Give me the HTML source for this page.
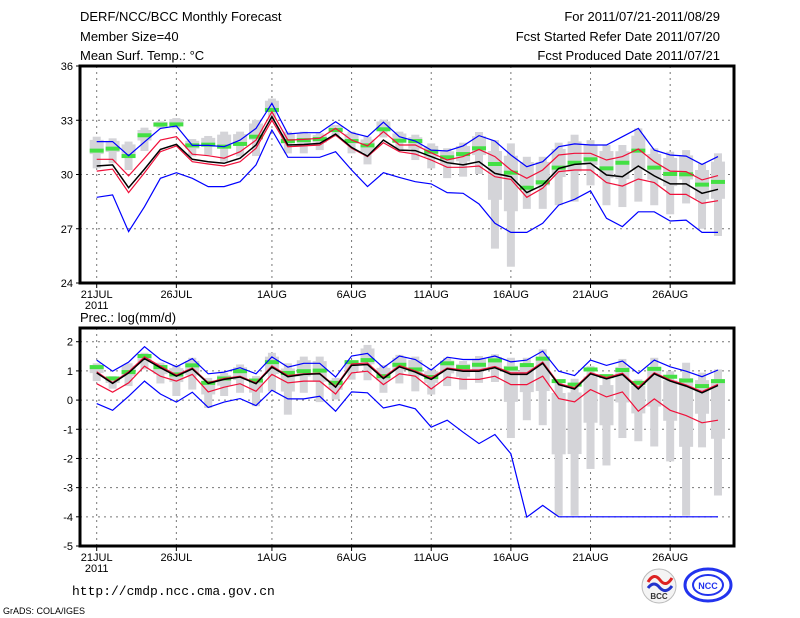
<!DOCTYPE html>
<html><head><meta charset="utf-8">
<style>
body{margin:0;background:#fff;}
svg{display:block;font-family:"Liberation Sans",sans-serif;}
</style></head>
<body>
<svg id="chart" width="800" height="618" viewBox="0 0 800 618">
<g font-size="13" fill="#000">
<text x="80" y="21">DERF/NCC/BCC Monthly Forecast</text>
<text x="80" y="41">Member Size=40</text>
<text x="80" y="60">Mean Surf. Temp.: °C</text>
<text x="720" y="21" text-anchor="end">For 2011/07/21-2011/08/29</text>
<text x="720" y="41" text-anchor="end">Fcst Started Refer Date 2011/07/20</text>
<text x="720" y="60" text-anchor="end">Fcst Produced Date 2011/07/21</text>
<text x="80" y="322">Prec.: log(mm/d)</text>
<text x="72" y="595" font-size="13" font-family="Liberation Mono,monospace">http://cmdp.ncc.cma.gov.cn</text>
<text x="3" y="614" font-size="9">GrADS: COLA/IGES</text>
</g>
<g id="top"></g>
<g id="bot"></g>
<g>
<circle cx="659" cy="586" r="17" fill="#f4f4f4" stroke="#bbb"/>
<path d="M648 582 q6 -10 12 -2 q6 8 12 -2" stroke="#d22" stroke-width="3" fill="none"/>
<path d="M648 588 q6 -8 12 0 q6 6 12 -2" stroke="#23c" stroke-width="3" fill="none"/>
<text x="659" y="599" font-size="8" text-anchor="middle" font-weight="bold" fill="#333">BCC</text>
</g>
<g>
<ellipse cx="708" cy="585" rx="23" ry="16" fill="none" stroke="#2233ee" stroke-width="3"/>
<ellipse cx="708" cy="585" rx="15" ry="10" fill="none" stroke="#2233ee" stroke-width="2"/>
<text x="708" y="589" font-size="9" text-anchor="middle" font-weight="bold" fill="#2233ee">NCC</text>
</g>
</svg>
<script>
// ---- Temperature panel data ----
const days = ["21JUL","","","","","26JUL","","","","","","1AUG","","","","","6AUG","","","","","11AUG","","","","","16AUG","","","","","21AUG","","","","","26AUG","","",""];
const tUpperBlue=[31.82,31.82,31.04,31.8,32.55,32.68,31.61,31.61,31.54,31.9,32.55,33.94,32.24,32.31,32.31,32.92,32.31,32.09,32.89,32.09,31.85,31.35,31.3,31.58,32.15,31.85,31.08,30.43,30.71,31.54,31.69,31.63,31.63,32.09,32.55,31.35,31.08,31.02,30.56,30.99];
const tUpperRed=[30.84,30.84,29.92,30.9,31.9,32.09,31.12,31.04,30.9,31.26,31.9,33.47,31.9,31.94,32.0,32.55,31.9,31.58,32.37,31.63,31.63,31.2,30.8,30.99,31.39,30.99,30.25,29.79,30.25,31.08,31.17,31.17,30.8,30.99,31.41,30.71,30.19,30.16,29.7,29.94];
const tMean=[30.47,30.53,29.27,30.3,31.39,31.67,30.84,30.71,30.62,30.9,31.63,33.2,31.63,31.66,31.72,32.24,31.5,31.02,31.9,31.35,31.32,30.99,30.65,30.53,30.71,30.06,29.88,29.0,29.42,30.34,30.56,30.62,29.97,29.88,30.47,29.92,29.48,29.48,28.96,29.18];
const tLowerRed=[30.19,30.3,29.0,30.1,31.26,31.58,30.71,30.58,30.47,30.71,31.45,33.0,31.54,31.58,31.63,32.18,31.45,30.99,31.76,31.26,31.13,30.8,30.4,30.4,30.47,29.88,29.73,28.74,29.24,30.16,30.25,30.25,29.55,29.36,29.75,29.55,28.9,28.9,28.4,28.55];
const tLowerBlue=[28.74,28.87,26.84,28.22,29.79,30.1,29.79,29.33,29.33,29.6,30.53,32.46,30.95,30.95,30.95,31.26,30.25,29.33,30.1,29.84,29.6,29.48,29.0,28.96,28.37,27.3,26.8,26.8,27.3,28.31,28.63,29.1,27.58,27.12,27.94,27.94,27.43,27.48,26.8,26.8];
const tObs=[31.32,31.43,31.02,32.17,32.76,32.77,31.61,31.65,31.54,31.69,32.09,33.57,31.85,31.9,31.96,32.46,31.85,31.61,32.5,31.87,31.85,31.26,30.95,31.13,31.45,30.58,30.1,29.27,29.57,30.38,30.65,30.84,30.34,30.65,31.32,30.38,30.03,30.01,29.44,29.59];
const tBarHigh=[32.09,32.0,31.82,32.59,32.94,33.12,31.96,32.13,32.37,32.37,33.02,34.2,32.37,32.37,32.28,32.74,32.37,32.09,33.03,32.37,32.2,31.72,31.45,31.76,32.35,31.9,31.72,30.98,30.98,31.76,32.2,31.9,31.63,31.63,32.55,31.45,31.26,31.35,30.61,31.17];
const tBarLow=[30.34,30.62,30.25,31.3,32.55,32.55,31.0,31.08,30.71,31.0,31.02,33.0,31.17,31.17,31.35,32.09,31.17,30.56,32.05,31.35,30.8,30.34,29.8,29.88,30.03,25.9,24.9,28.1,28.1,28.3,28.5,29.4,28.3,28.2,28.5,28.3,27.8,28.4,27.0,26.6];
// ---- Precipitation panel data ----
const pUpperBlue=[1.37,0.99,1.3,1.83,1.39,1.14,1.42,0.9,0.96,1.11,0.9,1.48,1.13,1.26,1.26,0.79,1.51,1.6,1.11,1.51,1.39,1.03,1.47,1.39,1.39,1.51,1.31,1.37,1.68,0.99,0.84,1.37,1.19,1.34,0.91,1.37,1.14,0.99,0.8,1.03];
const pUpperRed=[0.97,0.6,0.97,1.48,1.16,0.86,1.1,0.6,0.74,0.82,0.59,1.17,0.84,0.9,0.92,0.47,1.24,1.27,0.78,1.18,1.0,0.76,1.1,1.03,1.03,1.15,0.93,0.93,1.3,0.57,0.42,0.94,0.77,0.92,0.43,0.94,0.69,0.52,0.29,0.54];
const pMean=[0.93,0.57,0.93,1.42,1.11,0.82,1.07,0.57,0.71,0.79,0.56,1.13,0.8,0.88,0.9,0.44,1.19,1.22,0.74,1.14,0.96,0.71,1.07,0.99,0.99,1.11,0.88,0.88,1.26,0.53,0.38,0.9,0.73,0.88,0.38,0.9,0.65,0.48,0.25,0.5];
const pLowerRed=[0.56,0.27,0.59,1.16,0.82,0.65,0.88,0.28,0.44,0.56,0.3,0.88,0.59,0.65,0.65,0.21,0.93,0.99,0.53,0.9,0.82,0.38,0.79,0.71,0.71,0.82,0.53,0.53,0.82,0.05,-0.06,0.36,0.11,0.28,-0.38,0.04,-0.35,-0.53,-0.78,-0.69];
const pLowerBlue=[-0.12,-0.35,0.13,0.65,0.21,-0.07,0.27,-0.25,-0.07,0.05,-0.19,0.34,0.04,0.04,0.13,-0.38,0.28,0.25,-0.27,-0.15,-0.3,-0.93,-0.69,-1.1,-1.49,-1.18,-1.84,-4.01,-3.61,-4,-4,-4,-4,-4,-4,-4,-4,-4,-4,-4];
const pObs=[1.13,0.74,0.96,1.51,1.13,0.88,1.19,0.59,0.74,0.99,0.67,1.3,0.93,0.99,1.01,0.59,1.3,1.37,0.82,1.21,1.05,0.79,1.26,1.13,1.21,1.36,1.08,1.2,1.42,0.65,0.53,1.05,0.82,1.03,0.59,1.07,0.8,0.67,0.48,0.65];
const pBarHigh=[1.26,0.82,1.26,1.62,1.28,1.2,1.45,0.76,0.93,1.22,0.82,1.62,1.26,1.49,1.49,0.76,1.34,1.89,1.2,1.55,1.49,1.08,1.45,1.34,1.51,1.57,1.45,1.45,1.74,0.71,0.73,1.16,0.82,1.41,0.71,1.45,0.99,1.28,0.94,1.05];
const pBarLow=[0.65,0.39,0.48,1.05,0.57,0.14,0.36,-0.27,0.14,0.25,-0.21,0.3,-0.5,0.25,-0.07,0.02,0.7,0.68,0.25,0.57,0.3,0.19,0.48,0.36,0.59,0.62,-1.3,-0.69,-0.86,-3.96,-3.96,-2.36,-2.24,-1.3,-1.41,-1.59,-2.1,-3.96,-1.62,-3.27];

const NS='http://www.w3.org/2000/svg';
const X0=80,X1=734,D0X=96.7,DX=15.93;
function xd(i){return D0X+i*DX;}
function mk(tag,attrs,parent){const e=document.createElementNS(NS,tag);for(const k in attrs)e.setAttribute(k,attrs[k]);parent.appendChild(e);return e;}

function panel(g,top,bot,vmin,vmax,vTop,ticks,sets,barH,barL,obs,keyPrefix){
  const sc=(bot-top)/(vTop-vmin);
  const y=v=>bot-(v-vmin)*sc;
  // grid
  ticks.forEach(t=>{
    if(t>vmin && t<vTop){const l=mk('line',{x1:X0,x2:X1,y1:y(t),y2:y(t),stroke:'#777','stroke-dasharray':'2,4'},g);
    
    }
    const tl=mk('line',{x1:X0-4,x2:X0,y1:y(t),y2:y(t),stroke:'#000'},g);
    
    
    const tx=mk('text',{x:X0-7,y:y(t)+4,'font-size':11,'text-anchor':'end'},g);
    tx.textContent=String(t);
    
    
  });
  days.forEach((d,i)=>{
    if(d){
      const l=mk('line',{x1:xd(i),x2:xd(i),y1:top,y2:bot,stroke:'#777','stroke-dasharray':'2,4'},g);
      
      
      mk('line',{x1:xd(i),x2:xd(i),y1:bot,y2:bot+5,stroke:'#000'},g);
      const t=mk('text',{x:xd(i),y:bot+15,'font-size':11,'text-anchor':'middle'},g);
      t.textContent=d;
      
      
    }
  });
  const yr=mk('text',{x:xd(0),y:bot+26,'font-size':11,'text-anchor':'middle'},g);
  yr.textContent='2011';
  
  
  // bars
  barH.forEach((h,i)=>{
    const lo=barL[i];
    const b=mk('rect',{x:xd(i)-4,y:y(h),width:8,height:Math.max(1,y(lo)-y(h)),fill:'#d4d4d8'},g);
    
    
    const q1=h-(h-lo)*0.1,q2=h-(h-lo)*0.55;
    const bx=mk('rect',{x:xd(i)-7,y:y(q1),width:14,height:Math.max(1,y(q2)-y(q1)),fill:'#d4d4d8'},g);
    
    
  });
  obs.forEach((v,i)=>{
    const r=mk('rect',{x:xd(i)-7,y:y(v)-2,width:14,height:4,fill:'#44e044'},g);
    
    
  });
  sets.forEach(s=>{
    const p=mk('polyline',{points:s.d.map((v,i)=>xd(i).toFixed(1)+','+y(v).toFixed(1)).join(' '),fill:'none',stroke:s.c,'stroke-width':s.w},g);
    
    
  });
  const f=mk('rect',{x:X0,y:top,width:X1-X0,height:bot-top,fill:'none',stroke:'#000','stroke-width':3},g);
  
  
}
panel(document.getElementById('top'),66,283,24,36,36,[24,27,30,33,36],[
 {d:tUpperBlue,c:'#0000ff',w:1.2,n:'upper-blue-line'},
 {d:tLowerBlue,c:'#0000ff',w:1.2,n:'lower-blue-line'},
 {d:tUpperRed,c:'#f0103a',w:1.2,n:'upper-red-line'},
 {d:tLowerRed,c:'#f0103a',w:1.2,n:'lower-red-line'},
 {d:tMean,c:'#000',w:1.5,n:'mean-line'}],tBarHigh,tBarLow,tObs,'temp');
panel(document.getElementById('bot'),328,546,-5,2,2.47,[-5,-4,-3,-2,-1,0,1,2],[
 {d:pUpperBlue,c:'#0000ff',w:1.2,n:'upper-blue-line'},
 {d:pLowerBlue,c:'#0000ff',w:1.2,n:'lower-blue-line'},
 {d:pUpperRed,c:'#f0103a',w:1.2,n:'upper-red-line'},
 {d:pLowerRed,c:'#f0103a',w:1.2,n:'lower-red-line'},
 {d:pMean,c:'#000',w:1.5,n:'mean-line'}],pBarHigh,pBarLow,pObs,'prec');
</script>
</body></html>
